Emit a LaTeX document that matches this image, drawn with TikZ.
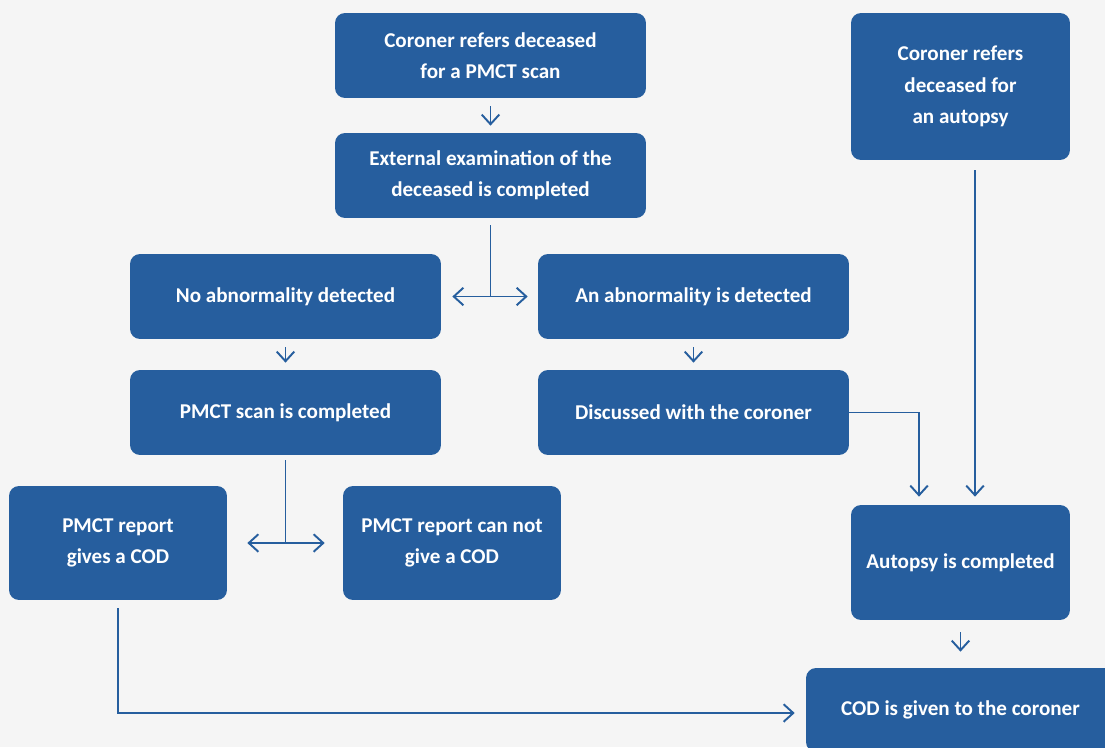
\documentclass[tikz,border=0pt]{standalone}
\usepackage{fontspec}
\setmainfont{Carlito}
\usetikzlibrary{arrows.meta,positioning}
\definecolor{pmblue}{RGB}{38,94,158}
\definecolor{pmback}{RGB}{245,245,245}
\tikzstyle{box} = [rectangle, rounded corners=0.2cm, fill=pmblue, text=white, align=center, inner sep=0pt, font=\bfseries\fontsize{12}{17.8}\selectfont]
\tikzstyle{wide} = [box, minimum width=6.22cm, minimum height=1.7cm]
\tikzstyle{narrow} = [box, minimum width=4.36cm, minimum height=2.28cm]
\tikzstyle{arrow} = [line width=1.1pt, color=pmblue, -{Straight Barb[length=5.5pt,width=10pt]}]
\tikzstyle{twoway} = [line width=1.1pt, color=pmblue, {Straight Barb[length=5.5pt,width=10pt]}-{Straight Barb[length=5.5pt,width=10pt]}]
\tikzstyle{plain} = [line width=1.1pt, color=pmblue]

\begin{document}
\begin{tikzpicture}[x=0.02cm, y=-0.02cm]
\useasboundingbox (0,0) rectangle (1105,747);
\clip (0,0) rectangle (1105,747);
\fill[pmback] (0,0) rectangle (1105,747);

% PMCT route
\node[wide] (refer) at (490.5,55.5) {Coroner refers deceased\\for a PMCT scan};
\node[wide] (exam) at (490.5,175.5) {External examination of the\\deceased is completed};
\node[wide] (noab) at (285.5,296.5) {No abnormality detected};
\node[wide] (abnorm) at (693.5,296.5) {An abnormality is detected};
\node[wide] (scan) at (285.5,412.5) {PMCT scan is completed};
\node[wide] (discuss) at (693.5,412.5) {Discussed with the coroner};
\node[narrow] (givecod) at (118,543) {PMCT report\\gives a COD};
\node[narrow] (nocod) at (452,543) {PMCT report can not\\give a COD};

% Autopsy route
\node[box, minimum width=4.38cm, minimum height=2.94cm] (autorefer) at (960.5,86.5) {Coroner refers\\deceased for\\an autopsy};
\node[box, minimum width=4.38cm, minimum height=2.3cm] (autopsy) at (960.5,562.5) {Autopsy is completed};
\node[box, minimum width=6.18cm, minimum height=1.68cm] (codgiven) at (960.5,710) {COD is given to the coroner};

% Split points
\coordinate (split1) at (490.5,296.5);
\coordinate (split2) at (285.5,543);

% Connectors
\draw[arrow, shorten <=0.16cm, shorten >=0.14cm] (refer) -- (exam);
\draw[plain, shorten <=0.14cm] (exam) -- (split1);
\draw[twoway, shorten <=0.22cm, shorten >=0.2cm] (noab) -- (abnorm);
\draw[arrow, shorten <=0.16cm, shorten >=0.14cm] (noab) -- (scan);
\draw[arrow, shorten <=0.16cm, shorten >=0.14cm] (abnorm) -- (discuss);
\draw[plain, shorten <=0.1cm] (scan) -- (split2);
\draw[twoway, shorten <=0.4cm, shorten >=0.36cm] (givecod) -- (nocod);
\draw[arrow, shorten >=0.16cm] (discuss.east) -| ([xshift=-0.83cm]autopsy.north);
\draw[arrow, shorten <=0.2cm, shorten >=0.16cm] ([xshift=0.29cm]autorefer.south) -- ([xshift=0.29cm]autopsy.north);
\draw[arrow, shorten <=0.24cm, shorten >=0.32cm] (autopsy) -- (codgiven);
\draw[arrow, shorten <=0.16cm, shorten >=0.22cm] (givecod.south) |- ([yshift=-0.06cm]codgiven.west);
\end{tikzpicture}
\end{document}
